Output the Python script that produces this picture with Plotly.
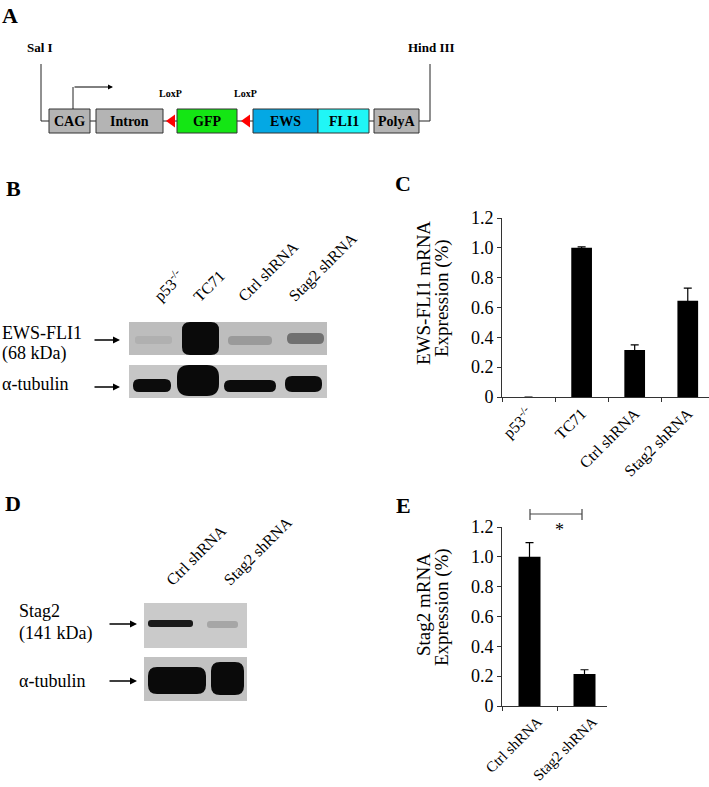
import plotly.graph_objects as go

W, H = 709, 787
FONT = "Liberation Serif"

# ---- panel C data ----
c_labels = ["p53<sup>-/-</sup>", "TC71", "Ctrl shRNA", "Stag2 shRNA"]
c_values = [0, 1.0, 0.315, 0.645]
c_errors = [0, 0.006, 0.035, 0.085]

# ---- panel E data ----
e_labels = ["Ctrl shRNA", "Stag2 shRNA"]
e_values = [1.0, 0.215]
e_errors = [0.095, 0.028]

y_tickvals = [0, 0.2, 0.4, 0.6, 0.8, 1.0, 1.2]
y_ticktext = ["0", "0.2", "0.4", "0.6", "0.8", "1.0", "1.2"]

# ---- panel A construct ----
parts = ["CAG", "Intron", "GFP", "EWS", "FLI1", "PolyA"]
part_colors = ["#b4b4b4", "#b4b4b4", "#14e614", "#04a8e4", "#20f6f6", "#b4b4b4"]
part_x = [(49, 90), (96, 163), (177, 237), (253, 318), (318, 369), (374, 419)]

# ---- blot lanes ----
b_lanes = ["p53<sup>-/-</sup>", "TC71", "Ctrl shRNA", "Stag2 shRNA"]
d_lanes = ["Ctrl shRNA", "Stag2 shRNA"]


def rounded(x0, y0, x1, y1, r):
    return (f"M{x0+r},{y0} L{x1-r},{y0} Q{x1},{y0} {x1},{y0+r} L{x1},{y1-r} "
            f"Q{x1},{y1} {x1-r},{y1} L{x0+r},{y1} Q{x0},{y1} {x0},{y1-r} "
            f"L{x0},{y0+r} Q{x0},{y0} {x0+r},{y0} Z")


fig = go.Figure()

fig.add_trace(go.Bar(x=c_labels, y=c_values, width=0.39,
                     marker=dict(color="black", line=dict(width=0)),
                     error_y=dict(type="data", array=c_errors, color="black",
                                  thickness=1.2, width=4),
                     xaxis="x", yaxis="y", showlegend=False))
fig.add_trace(go.Bar(x=e_labels, y=e_values, width=0.4,
                     marker=dict(color="black", line=dict(width=0)),
                     error_y=dict(type="data", array=e_errors, color="black",
                                  thickness=1.2, width=4),
                     xaxis="x2", yaxis="y2", showlegend=False))
# empty trace so the pixel overlay axes exist
fig.add_trace(go.Scatter(x=[None], y=[None], xaxis="x3", yaxis="y3",
                         showlegend=False, hoverinfo="skip"))

shapes = []
ann = []


def text(x, y, s, size, bold=False, xanchor="center", yanchor="middle", angle=0):
    ann.append(dict(x=x, y=y, xref="x3", yref="y3", text=f"<b>{s}</b>" if bold else s,
                    showarrow=False, xanchor=xanchor, yanchor=yanchor, textangle=angle,
                    font=dict(family=FONT, size=size, color="black")))


def arrow(x0, x1, y, width=1.4, head=2):
    ann.append(dict(x=x1, y=y, ax=x0, ay=y, xref="x3", yref="y3", axref="x3", ayref="y3",
                    text="", showarrow=True, arrowhead=head, arrowsize=1,
                    arrowwidth=width, arrowcolor="black"))


# ---------- Panel A ----------
text(10, 15, "A", 22, bold=True)
text(40, 47, "Sal I", 13, bold=True)
text(431, 47, "Hind III", 13, bold=True)
line = dict(color="#222", width=1)
shapes.append(dict(type="path", path="M41,64 L41,121 L430,121 L430,64",
                   xref="x3", yref="y3", line=line))
for (x0, x1), c, name in zip(part_x, part_colors, parts):
    shapes.append(dict(type="rect", x0=x0, x1=x1, y0=109, y1=133, xref="x3", yref="y3",
                       fillcolor=c, line=dict(color="#333", width=1)))
    text((x0 + x1) / 2, 121, name, 14, bold=True)
for tx in (166, 241):
    shapes.append(dict(type="path", path=f"M{tx},121 L{tx+9},114.5 L{tx+9},127.5 Z",
                       xref="x3", yref="y3", fillcolor="#ff0000", line=dict(width=0)))
text(170, 93, "LoxP", 10, bold=True)
text(245, 93, "LoxP", 10, bold=True)
shapes.append(dict(type="line", x0=73, x1=73, y0=109, y1=87, xref="x3", yref="y3", line=line))
arrow(73, 113, 87, width=1, head=2)

# ---------- Panel B ----------
text(13, 188, "B", 22, bold=True)
shapes.append(dict(type="rect", x0=129, x1=327, y0=322, y1=355, xref="x3", yref="y3",
                   fillcolor="#bdbdbd", line=dict(width=0)))
shapes.append(dict(type="rect", x0=129, x1=327, y0=365, y1=398, xref="x3", yref="y3",
                   fillcolor="#c6c6c6", line=dict(width=0)))
b_top = [(135, 172, 336, 344, 3, "#b0b0b0"), (182, 219, 322, 355, 8, "#0a0a0a"),
         (228, 272, 336, 345, 4, "#9a9a9a"), (287, 324, 333, 344, 5, "#707070")]
b_tub = [(133, 171, 379, 392, 6, "#0c0c0c"), (177, 219, 365, 396, 12, "#0a0a0a"),
         (224, 276, 380, 392, 6, "#0c0c0c"), (285, 322, 376, 392, 7, "#0c0c0c")]
for x0, x1, y0, y1, r, c in b_top + b_tub:
    shapes.append(dict(type="path", path=rounded(x0, y0, x1, y1, r), xref="x3", yref="y3",
                       fillcolor=c, line=dict(width=0)))
for x, lab in zip([146, 187, 232, 283], b_lanes):
    text(x, 308, lab, 16, xanchor="left", yanchor="bottom", angle=-45)
text(0, 333, "EWS-FLI1", 18, xanchor="left")
text(0, 353, "(68 kDa)", 18, xanchor="left")
text(0, 384, "α-tubulin", 18, xanchor="left")
arrow(93, 120, 340)
arrow(93, 120, 387)

# ---------- Panel C ----------
text(403, 183, "C", 22, bold=True)
text(423, 293, "EWS-FLI1 mRNA", 19, angle=-90)
text(442, 298, "Expression (%)", 19, angle=-90)

# ---------- Panel D ----------
text(13, 503, "D", 22, bold=True)
shapes.append(dict(type="rect", x0=144, x1=247, y0=603, y1=648, xref="x3", yref="y3",
                   fillcolor="#cacaca", line=dict(width=0)))
shapes.append(dict(type="rect", x0=144, x1=247, y0=657, y1=701, xref="x3", yref="y3",
                   fillcolor="#c2c2c2", line=dict(width=0)))
d_bands = [(148, 193, 620, 627, 3, "#1a1a1a"), (207, 238, 621, 628, 3, "#a6a6a6"),
           (148, 206, 667, 694, 9, "#0a0a0a"), (211, 244, 662, 695, 9, "#0a0a0a")]
for x0, x1, y0, y1, r, c in d_bands:
    shapes.append(dict(type="path", path=rounded(x0, y0, x1, y1, r), xref="x3", yref="y3",
                       fillcolor=c, line=dict(width=0)))
for x, lab in zip([160, 218], d_lanes):
    text(x, 592, lab, 16, xanchor="left", yanchor="bottom", angle=-45)
text(17, 611, "Stag2", 18, xanchor="left")
text(17, 633, "(141 kDa)", 18, xanchor="left")
text(17, 681, "α-tubulin", 18, xanchor="left")
arrow(108, 137, 624)
arrow(108, 137, 681)

# ---------- Panel E ----------
text(403, 505, "E", 22, bold=True)
text(423, 605, "Stag2 mRNA", 19, angle=-90)
text(442, 607, "Expression (%)", 19, angle=-90)
shapes.append(dict(type="path", path="M530,509 L530,520 M530,514 L582,514 M582,509 L582,520",
                   xref="x3", yref="y3", line=dict(color="#444", width=1.2)))
text(559, 530, "*", 18)

axis_common = dict(showline=True, linecolor="#333", linewidth=1, showgrid=False,
                   zeroline=False, ticks="outside", ticklen=4, tickcolor="#333",
                   tickfont=dict(family=FONT, size=18, color="black"), fixedrange=True,
                   automargin=False)
xcommon = dict(axis_common, tickangle=-45, tickson="boundaries",
               tickfont=dict(family=FONT, size=16, color="black"))

fig.update_layout(
    template="none",
    width=W, height=H, margin=dict(l=0, r=0, t=0, b=0, pad=0), autosize=False,
    paper_bgcolor="white", plot_bgcolor="rgba(0,0,0,0)",
    font=dict(family=FONT, color="black"),
    xaxis=dict(xcommon, domain=[502 / W, 709 / W], range=[-0.5, 3.4], anchor="y"),
    yaxis=dict(axis_common, domain=[1 - 397 / H, 1 - 218 / H], range=[0, 1.2],
               tickvals=y_tickvals, ticktext=y_ticktext, anchor="x"),
    xaxis2=dict(xcommon, domain=[502 / W, 606.5 / W], range=[-0.5, 1.4], anchor="y2",
                ticklabelshift=8, tickfont=dict(family=FONT, size=15, color="black")),
    yaxis2=dict(axis_common, domain=[1 - 706 / H, 1 - 527 / H], range=[0, 1.2],
                tickvals=y_tickvals, ticktext=y_ticktext, anchor="x2"),
    xaxis3=dict(domain=[0, 1], range=[0, W], visible=False, fixedrange=True,
                anchor="y3", automargin=False),
    yaxis3=dict(domain=[0, 1], range=[H, 0], visible=False, fixedrange=True,
                anchor="x3", automargin=False),
    shapes=shapes, annotations=ann, bargap=0.6,
)

fig.write_html("out.html", config={"displayModeBar": False},
               post_script="document.body.style.margin='0px';")
